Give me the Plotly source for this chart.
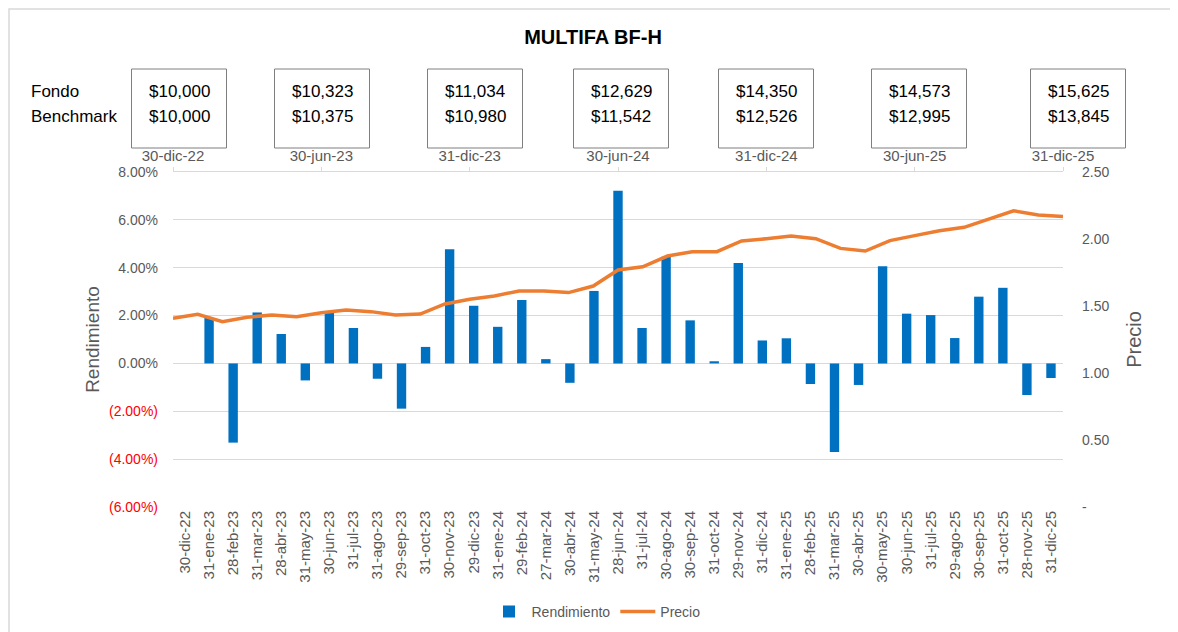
import plotly.graph_objects as go

# ---------------- data ----------------
fechas = ["30-dic-22", "31-ene-23", "28-feb-23", "31-mar-23", "28-abr-23", "31-may-23",
          "30-jun-23", "31-jul-23", "31-ago-23", "29-sep-23", "31-oct-23", "30-nov-23",
          "29-dic-23", "31-ene-24", "29-feb-24", "27-mar-24", "30-abr-24", "31-may-24",
          "28-jun-24", "31-jul-24", "30-ago-24", "30-sep-24", "31-oct-24", "29-nov-24",
          "31-dic-24", "31-ene-25", "28-feb-25", "31-mar-25", "30-abr-25", "30-may-25",
          "30-jun-25", "31-jul-25", "29-ago-25", "30-sep-25", "31-oct-25", "28-nov-25",
          "31-dic-25"]

rendimiento = [0.0, 1.90, -3.31, 2.13, 1.23, -0.71, 2.13, 1.48, -0.64, -1.89, 0.69, 4.77,
               2.41, 1.53, 2.65, 0.18, -0.81, 3.03, 7.22, 1.48, 4.46, 1.80, 0.09, 4.20,
               0.96, 1.05, -0.86, -3.70, -0.90, 4.06, 2.08, 2.02, 1.06, 2.79, 3.16, -1.32,
               -0.61]

precio = [1.408, 1.438, 1.383, 1.416, 1.433, 1.420, 1.450, 1.470, 1.458, 1.433, 1.440,
          1.515, 1.550, 1.575, 1.612, 1.612, 1.600, 1.649, 1.769, 1.793, 1.873, 1.905,
          1.905, 1.985, 2.002, 2.022, 2.002, 1.930, 1.910, 1.988, 2.025, 2.062, 2.087,
          2.147, 2.211, 2.179, 2.167]

top_labels = ["30-dic-22", "30-jun-23", "31-dic-23", "30-jun-24", "31-dic-24", "30-jun-25", "31-dic-25"]
fondo = ["$10,000", "$10,323", "$11,034", "$12,629", "$14,350", "$14,573", "$15,625"]
benchmark = ["$10,000", "$10,375", "$10,980", "$11,542", "$12,526", "$12,995", "$13,845"]

left_ticks = [-6, -4, -2, 0, 2, 4, 6, 8]
right_ticks = [0, 0.5, 1.0, 1.5, 2.0, 2.5]

# ---------------- layout geometry (page pixels) ----------------
OFF = 8  # default page body margin
PAGE_W, PAGE_H = 1178, 632
W, H = PAGE_W - OFF, PAGE_H - OFF
L, R, T, B = 173, 1063, 172, 507   # plot area in page pixels
FONT = "Liberation Sans, Arial, sans-serif"
GRAY = "#595959"
GRID = "#d9d9d9"


def px_x(px):
    return (px - L) / (R - L)


def px_y(py):
    return (B - py) / (B - T)


def fmt_left(v):
    if v < 0:
        return f"<span style='color:#ff0000'>({abs(v):.2f}%)</span>"
    return f"{v:.2f}%"


def fmt_right(v):
    return "-" if v == 0 else f"{v:.2f}"


fig = go.Figure()

fig.add_trace(go.Bar(
    x=fechas, y=rendimiento, name="Rendimiento",
    marker=dict(color="#0070C0", line=dict(width=0)),
    width=0.39, xaxis="x", yaxis="y",
))
fig.add_trace(go.Scatter(
    x=fechas, y=precio, name="Precio", mode="lines",
    line=dict(color="#ED7D31", width=3.5),
    xaxis="x2", yaxis="y2",
))

fig.update_layout(
    width=W, height=H,
    margin=dict(l=L - OFF, r=PAGE_W - R, t=T - OFF, b=PAGE_H - B, pad=0, autoexpand=False),
    paper_bgcolor="white", plot_bgcolor="white",
    font=dict(family=FONT, size=14, color=GRAY),
    showlegend=True,
    legend=dict(orientation="h", x=px_x(596), y=px_y(612), xanchor="center", yanchor="middle",
                font=dict(size=14, color=GRAY), itemwidth=35, traceorder="normal"),
    title=dict(text="<b>MULTIFA BF-H</b>", x=(593 - OFF) / W, y=1 - (37 - OFF) / H,
               xref="container", yref="container", xanchor="center", yanchor="middle",
               font=dict(size=20, color="black", family=FONT)),
    xaxis=dict(
        type="category", categoryorder="array", categoryarray=fechas,
        range=[-0.5, len(fechas) - 0.5], anchor="y", side="bottom",
        showline=False, showgrid=False, zeroline=False, ticks="",
        tickangle=-90, tickfont=dict(size=15, color=GRAY),
    ),
    xaxis2=dict(
        type="category", categoryorder="array", categoryarray=fechas,
        range=[0, len(fechas) - 1], overlaying="x", side="top", anchor="y2",
        showline=True, linecolor=GRID, linewidth=1, showgrid=False, zeroline=False,
        tickmode="array", tickvals=[fechas[i] for i in range(0, len(fechas), 6)],
        ticktext=top_labels, ticks="outside", ticklen=4, tickcolor=GRID,
        ticklabelstandoff=0, tickfont=dict(size=15, color=GRAY),
    ),
    xaxis3=dict(
        type="linear", range=[-0.5, len(fechas) - 0.5], overlaying="x", anchor="free",
        position=6 / 14, side="bottom",
        showline=True, linecolor=GRID, linewidth=1, showgrid=False, zeroline=False,
        tickmode="array", tickvals=[i - 0.5 for i in range(len(fechas) + 1)],
        ticks="outside", ticklen=5, tickcolor=GRID, showticklabels=False,
    ),
    yaxis=dict(
        range=[-6, 8], tickmode="array", tickvals=left_ticks,
        ticktext=[fmt_left(v) for v in left_ticks],
        showgrid=True, gridcolor=GRID, gridwidth=1, zeroline=False, showline=False,
        ticks="", ticklabelstandoff=14, tickfont=dict(size=14, color=GRAY),
        title=dict(text="Rendimiento", font=dict(size=19, color=GRAY), standoff=4),
    ),
    yaxis2=dict(
        range=[0, 2.5], overlaying="y", side="right", anchor="x2",
        tickmode="array", tickvals=right_ticks, ticktext=[fmt_right(v) for v in right_ticks],
        showgrid=False, zeroline=False, showline=False, ticks="",
        ticklabelstandoff=18, tickfont=dict(size=14, color=GRAY),
        title=dict(text="Precio", font=dict(size=20, color=GRAY), standoff=18),
    ),
)

shapes = []
annotations = []
# outer chart border (top/left visible)
shapes.append(dict(type="rect", xref="paper", yref="paper",
                   x0=px_x(9), x1=px_x(1195), y0=px_y(650), y1=px_y(9),
                   line=dict(color=GRID, width=1.5), fillcolor="rgba(0,0,0,0)", layer="below"))

box_centers = [179, 322, 475, 621, 766, 919, 1078]
for cx, f, b in zip(box_centers, fondo, benchmark):
    shapes.append(dict(type="rect", xref="paper", yref="paper",
                       x0=px_x(cx - 47.5), x1=px_x(cx + 47.5), y0=px_y(148), y1=px_y(69),
                       line=dict(color="#7f7f7f", width=1), fillcolor="rgba(0,0,0,0)"))
    annotations.append(dict(text=f, x=px_x(cx), y=px_y(92), xref="paper", yref="paper",
                            showarrow=False, xanchor="center", yanchor="middle",
                            font=dict(size=17, color="black", family=FONT)))
    annotations.append(dict(text=b, x=px_x(cx), y=px_y(116), xref="paper", yref="paper",
                            showarrow=False, xanchor="center", yanchor="middle",
                            font=dict(size=17, color="black", family=FONT)))

annotations.append(dict(text="Fondo", x=px_x(29), y=px_y(92), xref="paper", yref="paper",
                        showarrow=False, xanchor="left", yanchor="middle",
                        font=dict(size=17, color="black", family=FONT)))
annotations.append(dict(text="Benchmark", x=px_x(29), y=px_y(116), xref="paper", yref="paper",
                        showarrow=False, xanchor="left", yanchor="middle",
                        font=dict(size=17, color="black", family=FONT)))

fig.update_layout(shapes=shapes, annotations=annotations)

fig.write_html("out.html")
